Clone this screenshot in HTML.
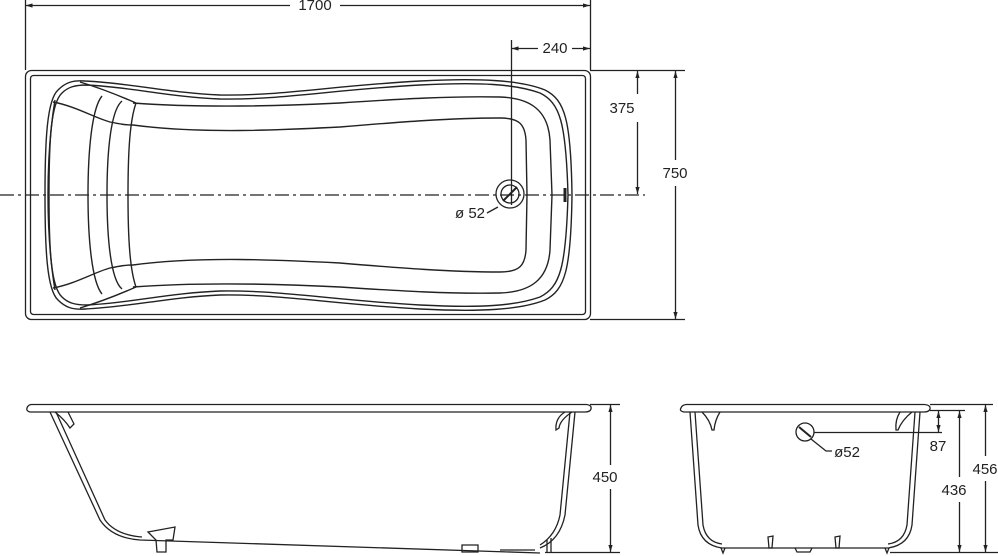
<!DOCTYPE html>
<html><head><meta charset="utf-8"><style>
html,body{margin:0;padding:0;background:#fff}
svg{display:block}
text{font-family:"Liberation Sans",Arial,sans-serif;font-size:15px;fill:#222}
</style></head><body>
<svg width="998" height="556" viewBox="0 0 998 556" xmlns="http://www.w3.org/2000/svg">
<defs>
<marker id="a" viewBox="0 0 10 10" refX="10" refY="5" markerWidth="9" markerHeight="7" orient="auto-start-reverse" markerUnits="userSpaceOnUse"><path d="M0,2 L10,5 L0,8 z" fill="#222"/></marker>
<g id="half" fill="none" stroke="#222" stroke-width="1.4">
<path d="M45,195 C45,140 47,100 58,90 C65,83 72,80 85,81 C130,83 170,93 220,95 C280,96 330,86 420,81 C480,78 520,80 545,90 C565,100 571,120 572,195"/>
<path d="M49,195 C49,140 51,103 62,93 C68,87 75,85 87,85 C130,87 170,97 220,99 C280,100 330,90 420,85 C480,82 515,84 540,93 C560,103 566,122 568,195"/>
<path d="M133,103 C200,108 280,106 340,103 C400,99 450,96 500,97 C530,98 548,110 550,140 L552,195"/>
<path d="M133,125 C200,134 280,130 340,127 C400,122 450,118 500,118 C520,118 525,125 526,140 L527,195"/>
<path d="M53,102 C75,106 95,118 110,122 C120,124 125,125 133,125"/>
<path d="M80,82 C100,88 120,96 136,103"/>
<path d="M55,100 C50,130 48,160 48,195"/>
<path d="M102,96 C92,108 88,150 88,195"/>
<path d="M122,101 C111,110 107,150 107,195"/>
<path d="M136,103 C130,120 128,150 128,195"/>
</g>
</defs>
<g stroke="#222" stroke-width="1.3" fill="none">
<rect x="25.5" y="70.5" width="565" height="249" rx="6"/>
<rect x="30.5" y="75.5" width="555" height="239" rx="3"/>
<use href="#half"/>
<use href="#half" transform="translate(0,390) scale(1,-1)"/>
<line x1="0" y1="195" x2="645" y2="195" stroke-dasharray="14,4,3,4"/>
<circle cx="510" cy="194" r="14"/><circle cx="510" cy="194" r="9"/>
<line x1="503" y1="201" x2="517" y2="187" stroke-width="2"/>
<path d="M565,188 L565,202" stroke-width="3"/>
<path d="M487,213 L498,207"/>
<line x1="25.5" y1="0" x2="25.5" y2="70"/><line x1="590.5" y1="0" x2="590.5" y2="70"/>
<line x1="25.5" y1="5.5" x2="290" y2="5.5" marker-start="url(#a)"/>
<line x1="340" y1="5.5" x2="590" y2="5.5" marker-end="url(#a)"/>
<line x1="511.5" y1="40" x2="511.5" y2="205"/>
<line x1="511.5" y1="48.5" x2="538" y2="48.5" marker-start="url(#a)"/>
<line x1="572" y1="48.5" x2="590" y2="48.5" marker-end="url(#a)"/>
<line x1="590" y1="70.5" x2="685" y2="70.5"/><line x1="590" y1="319.5" x2="685" y2="319.5"/>
<line x1="637.5" y1="71" x2="637.5" y2="94" marker-start="url(#a)"/>
<line x1="637.5" y1="122" x2="637.5" y2="194" marker-end="url(#a)"/>
<line x1="675.5" y1="71" x2="675.5" y2="160" marker-start="url(#a)"/>
<line x1="675.5" y1="186" x2="675.5" y2="319" marker-end="url(#a)"/>
<path d="M31,404.5 L586,404.5 Q592,405 591,409 Q590,412 585,412 L30,412 Q26,411 27,408 Q28,405 31,404.5 Z"/>
<path d="M50,412 L100,520 Q112,538 140,540 L540,553"/>
<path d="M56,412 L105,520 Q116,535 142,537"/>
<path d="M575,412 L565,515 Q560,540 540,548"/>
<path d="M570,412 L560,515 Q556,535 540,545"/>
<path d="M55,412 Q65,420 70,428 L74,424 Q70,416 68,412"/>
<path d="M565,412 Q555,418 556,430 L559,428 Q560,420 572,412"/>
<path d="M148,532 L175,527 L173,540 L166,540 L166,552 L157,552 L156,540 Z"/>
<path d="M462,545 L478,545 L478,552 L462,552 Z"/>
<path d="M500,550 L535,550"/>
<path d="M547,540 L547,552 M551,538 L551,552"/>
<line x1="590" y1="404.5" x2="620" y2="404.5"/><line x1="545" y1="552.5" x2="620" y2="552.5"/>
<line x1="610.5" y1="405" x2="610.5" y2="465" marker-start="url(#a)"/>
<line x1="610.5" y1="489" x2="610.5" y2="552" marker-end="url(#a)"/>
<path d="M686,404.5 L924,404.5 Q931,405 930,409 Q929,412 924,412 L684,412 Q679,411 681,408 Q682,405 686,404.5 Z"/>
<path d="M690,412 L698,525 Q701,545 722,548 L888,548 Q909,545 912,525 L920,412"/>
<path d="M695,412 L703,525 Q706,542 722,544 M915,412 L907,525 Q904,542 888,544"/>
<path d="M702,412 Q710,420 712,430 L714,430 Q715,420 720,412"/>
<path d="M900,412 Q895,420 896,430 L898,430 Q902,420 912,412"/>
<path d="M768,537 L773,536 L772,548 L769,548 Z M835,537 L840,536 L839,548 L836,548 Z"/>
<path d="M721,548 L723,553 L725,548 M885,548 L887,553 L889,548 M795,548 L797,552 L810,552 L812,548"/>
<circle cx="805" cy="432" r="9"/>
<line x1="799" y1="427" x2="811" y2="437" stroke-width="2"/>
<line x1="814" y1="432.5" x2="942" y2="432.5"/>
<path d="M811,439 L826,451 L832,451"/>
<line x1="930" y1="410.5" x2="965" y2="410.5"/><line x1="930" y1="404.5" x2="993" y2="404.5"/>
<line x1="890" y1="552.5" x2="998" y2="552.5"/>
<line x1="938.5" y1="411" x2="938.5" y2="432" marker-start="url(#a)" marker-end="url(#a)"/>
<line x1="959.5" y1="411" x2="959.5" y2="477" marker-start="url(#a)"/>
<line x1="959.5" y1="502" x2="959.5" y2="552" marker-end="url(#a)"/>
<line x1="985.5" y1="405" x2="985.5" y2="456" marker-start="url(#a)"/>
<line x1="985.5" y1="481" x2="985.5" y2="552" marker-end="url(#a)"/>
</g>
<text x="315" y="10" text-anchor="middle">1700</text>
<text x="555" y="53" text-anchor="middle">240</text>
<text x="622" y="113" text-anchor="middle">375</text>
<text x="675" y="178" text-anchor="middle">750</text>
<text x="470" y="218" text-anchor="middle">ø 52</text>
<text x="605" y="482" text-anchor="middle">450</text>
<text x="847" y="457" text-anchor="middle">ø52</text>
<text x="938" y="451" text-anchor="middle">87</text>
<text x="954" y="495" text-anchor="middle">436</text>
<text x="985" y="474" text-anchor="middle">456</text>
</svg>
</body></html>
